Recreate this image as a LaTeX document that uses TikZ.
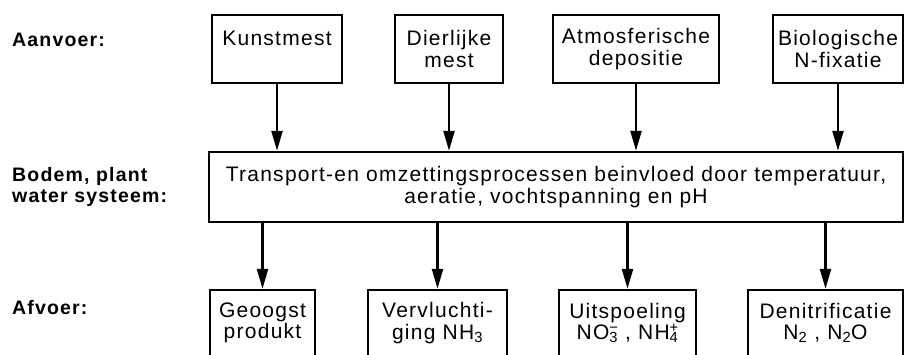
\documentclass[tikz,border=0pt]{standalone}
\usepackage{fontspec}
\setmainfont{Liberation Sans}[LetterSpace=6]
\usetikzlibrary{arrows.meta}
% stacked sub- and superscript for the ions
\newcommand\ionidx[2]{\rlap{\textsuperscript{#2}}\textsubscript{#1}}
\begin{document}
\begin{tikzpicture}[x=1pt,y=-1pt,
    box/.style={draw, line width=2.4pt, align=center, inner sep=0pt,
      font=\fontsize{21}{21.5}\selectfont},
    level/.style={anchor=west, align=left, inner sep=0pt,
      font=\bfseries\fontsize{19.5}{21}\selectfont},
    flow/.style={-{Triangle[length=20pt,width=11pt]}, line width=2.4pt}]
  \useasboundingbox (0,0) rectangle (904,355);
  \clip (0,0) rectangle (904,355);
  % levels
  \node[level] (aanvoer) at (12,40) {Aanvoer:};
  \node[level] (bodem) at (12,187) {Bodem, plant\\water systeem:};
  \node[level] (afvoer) at (12,308) {Afvoer:};
  % aanvoer
  \node[box, minimum width=130pt, minimum height=68pt] (kunst) at (277,49) {Kunstmest\\ ~};
  \node[box, minimum width=108pt, minimum height=68pt] (dier) at (449,49) {Dierlijke\\mest};
  \node[box, minimum width=166pt, minimum height=68pt] (atmos) at (636,49) {Atmosferische\\depositie};
  \node[box, minimum width=130pt, minimum height=68pt] (bio) at (838,49) {Biologische\\N-fixatie};
  % bodem, plant, water
  \node[box, minimum width=694pt, minimum height=70pt] (proc) at (556,187)
    {Transport-en omzettingsprocessen beinvloed door temperatuur,\\aeratie, vochtspanning en pH};
  % afvoer
  \node[box, minimum width=105pt, minimum height=66pt] (oogst) at (262.5,323) {Geoogst\\produkt};
  \node[box, minimum width=139pt, minimum height=66pt] (vervl) at (437.5,323) {Vervluchti-\\ging NH\textsubscript{3}};
  \node[box, minimum width=137pt, minimum height=66pt] (uitsp) at (627.5,323) {Uitspoeling\\NO\ionidx{3}{\textminus} , NH\ionidx{4}{+}};
  \node[box, minimum width=155pt, minimum height=66pt] (denit) at (825.5,323) {Denitrificatie\\N\textsubscript{2} , N\textsubscript{2}O};
  % arrows
  \foreach \n in {kunst,dier,atmos,bio}
    \draw[flow] (\n.south) -- (\n.south |- proc.north);
  \foreach \n in {oogst,vervl,uitsp,denit}
    \draw[flow] (\n.north |- proc.south) -- (\n.north);
\end{tikzpicture}
\end{document}
